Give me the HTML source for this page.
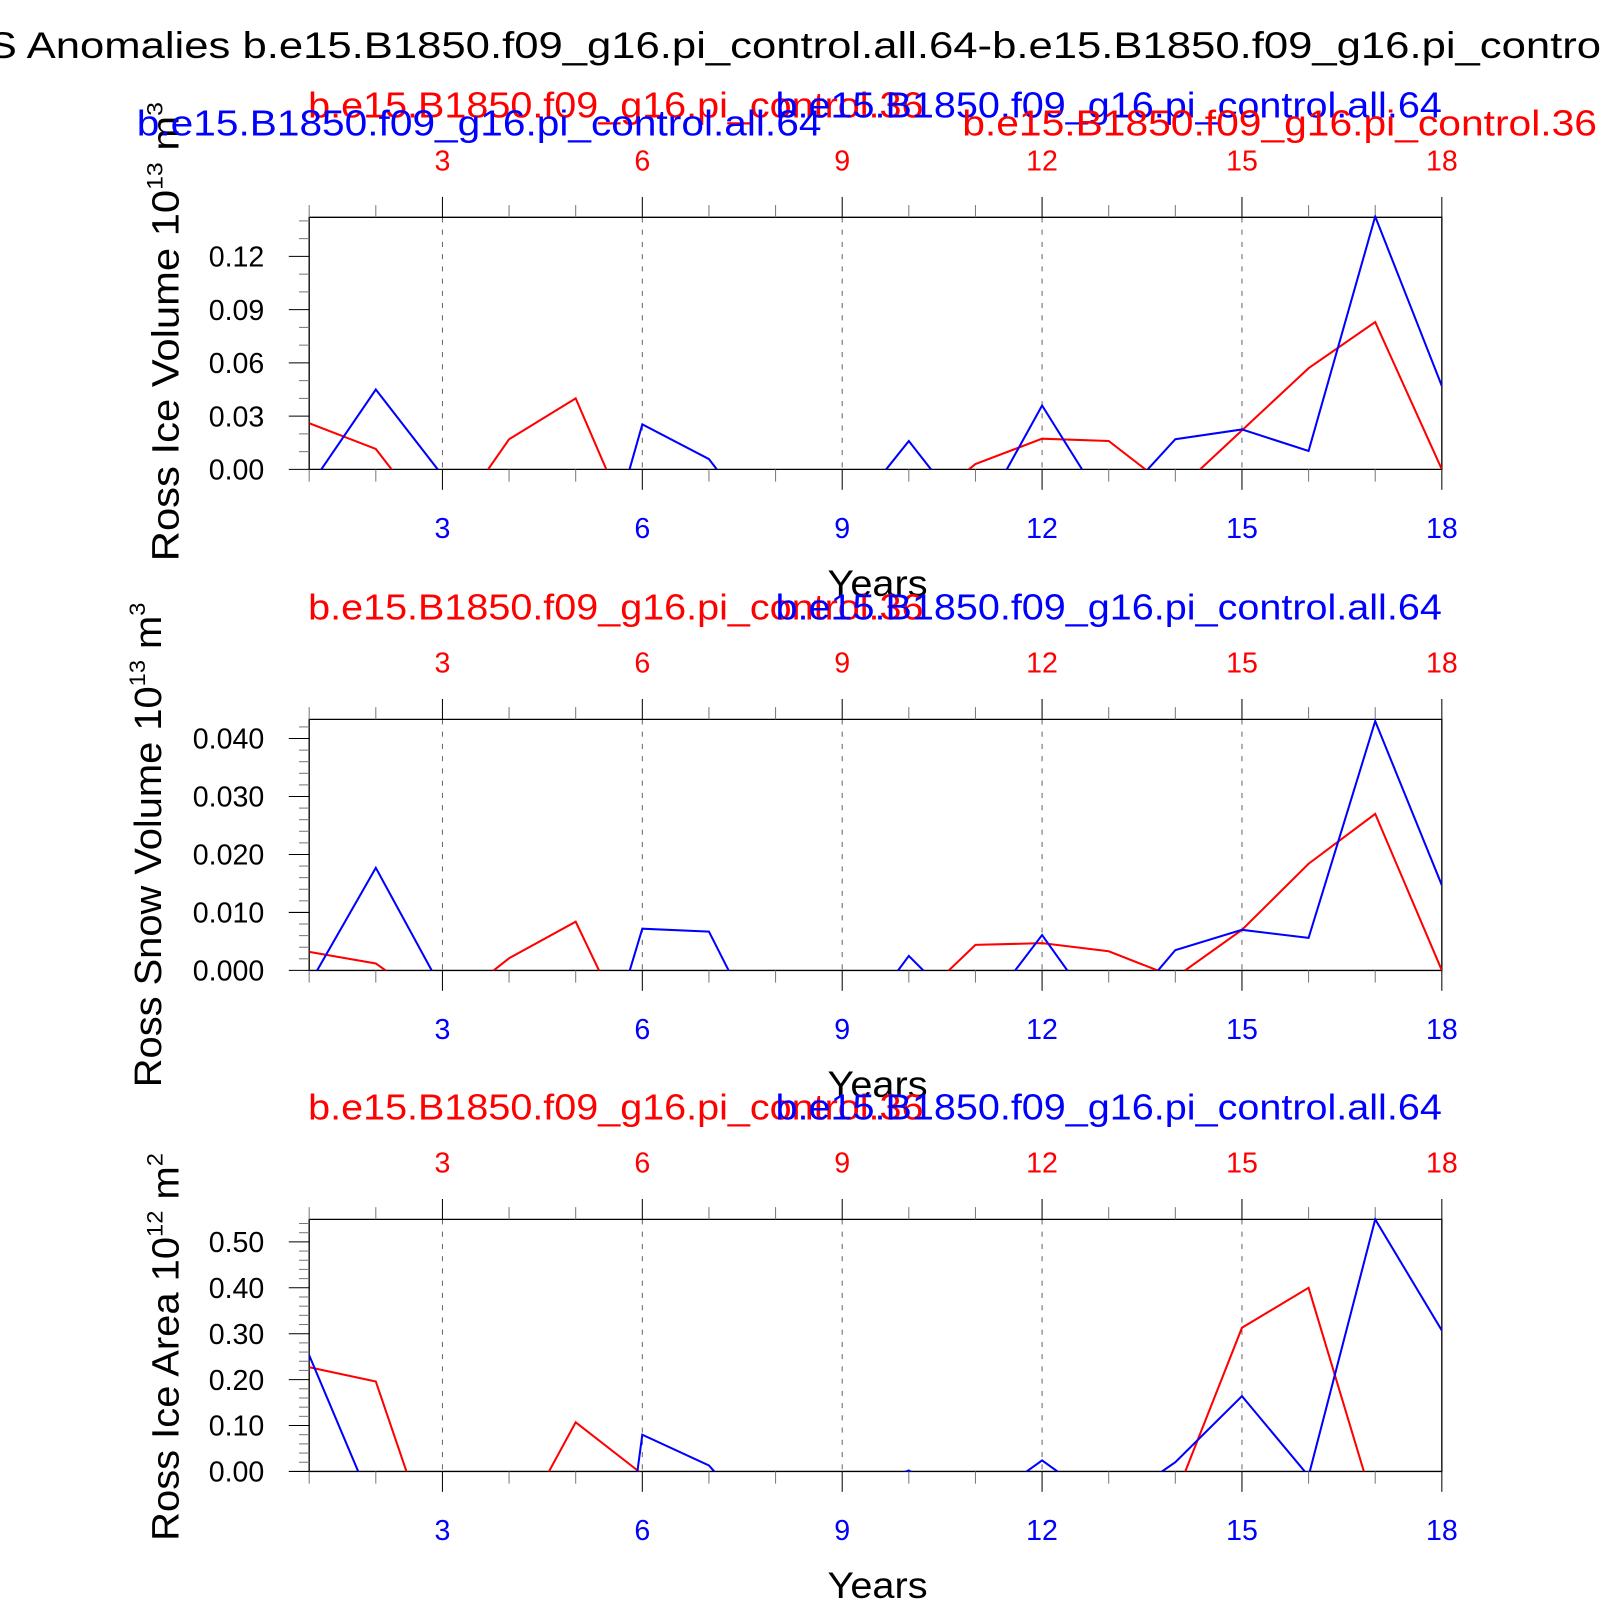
<!DOCTYPE html>
<html><head><meta charset="utf-8"><style>
html,body{margin:0;padding:0;background:#fff;overflow:hidden;width:1600px;height:1600px;}
svg{display:block;font-family:"Liberation Sans",sans-serif;}
</style></head><body>
<svg id="chart" width="1600" height="1600" viewBox="0 0 1568 1568" xmlns="http://www.w3.org/2000/svg" overflow="hidden">
<text x="-12" y="57" font-size="36" textLength="1650" lengthAdjust="spacingAndGlyphs">S Anomalies b.e15.B1850.f09_g16.pi_control.all.64-b.e15.B1850.f09_g16.pi_control.36</text>
<g id="panels"></g>
</svg>
<script>
const years = [1,2,3,4,5,6,7,8,9,10,11,12,13,14,15,16,17,18];
const xTicks = [3,6,9,12,15,18];
const iceVolBlue = [-0.010,0.045,-0.0034,-0.05,-0.107,0.0254,0.0058,-0.043,-0.031,0.016,-0.032,0.036,-0.024,0.017,0.0225,0.0104,0.1425,0.047];
const iceVolRed = [0.026,0.0115,-0.037,0.017,0.040,-0.047,-0.03,-0.03,-0.03,-0.027,0.003,0.0173,0.016,-0.013,0.022,0.057,0.083,0.0];
const snowVolBlue = [-0.0024,0.0177,-0.0034,-0.02,-0.031,0.0072,0.0067,-0.016,-0.013,0.0025,-0.009,0.0061,-0.010,0.0035,0.007,0.0056,0.043,0.0147];
const snowVolRed = [0.0032,0.0012,-0.007,0.0021,0.0084,-0.0156,-0.01,-0.01,-0.01,-0.0066,0.0044,0.0047,0.0033,-0.0012,0.007,0.0184,0.027,0.0];
const areaBlue = [0.253,-0.091,-0.3,-0.5,-1.0,0.08,0.013,-0.15,-0.05,0.002,-0.08,0.024,-0.08,0.02,0.164,-0.01,0.549,0.307];
const areaRed = [0.227,0.196,-0.23,-0.16,0.107,-0.006,-0.1,-0.1,-0.1,-0.1,-0.1,-0.1,-0.1,-0.055,0.313,0.40,-0.082,-0.1];
const iceVolTicks = [0.00,0.03,0.06,0.09,0.12];
const snowVolTicks = [0.000,0.010,0.020,0.030,0.040];
const areaTicks = [0.00,0.10,0.20,0.30,0.40,0.50];

const NS='http://www.w3.org/2000/svg';
const X0=303,X1=1413;
function xs(v){return X0+(v-1)*(X1-X0)/17;}
function mk(parent,tag,attrs,text){const e=document.createElementNS(NS,tag);for(const k in attrs)e.setAttribute(k,attrs[k]);if(text!==undefined)e.textContent=text;parent.appendChild(e);return e;}
const root=document.getElementById('panels');
const panels=[
 {name:'ice-volume',top:213,bot:460,ymax:0.142,ticks:iceVolTicks,dec:2,minor:0.01,blue:iceVolBlue,red:iceVolRed,label:['Ross Ice Volume 10','13',' m','3'],lx:175,ly:325,lw:450,extra:true},
 {name:'snow-volume',top:705,bot:951,ymax:0.0433,ticks:snowVolTicks,dec:3,minor:0.002,blue:snowVolBlue,red:snowVolRed,label:['Ross Snow Volume 10','13',' m','3'],lx:158,ly:828,lw:475},
 {name:'ice-area',top:1195,bot:1442,ymax:0.549,ticks:areaTicks,dec:2,minor:0.02,blue:areaBlue,red:areaRed,label:['Ross Ice Area 10','12',' m','2'],lx:175,ly:1320,lw:380}
];
panels.forEach((p,pi)=>{
  const g=mk(root,'g',{});
  
  
  const ys=v=>p.bot-v/p.ymax*(p.bot-p.top);
  const cp=mk(g,'clipPath',{id:'clip'+pi});
  mk(cp,'rect',{x:X0,y:p.top-2,width:X1-X0,height:p.bot-p.top+2});
  xTicks.forEach(t=>{ if(t<18){const l=mk(g,'line',{x1:xs(t),x2:xs(t),y1:p.top,y2:p.bot,stroke:'#666','stroke-width':1,'stroke-dasharray':'5,7'});
    
    }});
  const fr=mk(g,'path',{d:`M${X0} ${p.bot}V${p.top}H${X1}V${p.bot}H${X0}`,fill:'none',stroke:'#000','stroke-width':1.3});
  
  
  years.forEach(v=>{const maj=v%3===0; const L=maj?20:12;
    mk(g,'line',{x1:xs(v),x2:xs(v),y1:p.top,y2:p.top-L,stroke:maj?'#000':'#777','stroke-width':1});
    mk(g,'line',{x1:xs(v),x2:xs(v),y1:p.bot,y2:p.bot+L,stroke:maj?'#000':'#777','stroke-width':1});});
  xTicks.forEach(t=>{
    const a=mk(g,'text',{x:xs(t),y:p.top-46,'font-size':28,fill:'#f00','text-anchor':'middle'},String(t));
    
    
    const b=mk(g,'text',{x:xs(t),y:p.bot+67,'font-size':28,fill:'#00f','text-anchor':'middle'},String(t));
    
    
  });
  const nMin=Math.floor(p.ymax/p.minor+1e-9);
  for(let i=0;i<=nMin;i++){const v=i*p.minor;const y=ys(v);
    const isMaj=p.ticks.some(t=>Math.abs(t-v)<p.minor/10);
    mk(g,'line',{x1:X0,x2:X0-(isMaj?20:10),y1:y,y2:y,stroke:isMaj?'#000':'#777','stroke-width':1});}
  p.ticks.forEach(t=>{const e=mk(g,'text',{x:259,y:ys(t)+10,'font-size':28,'text-anchor':'end'},t.toFixed(p.dec));
    
    });
  [['red',p.red,'#f00'],['blue',p.blue,'#00f']].forEach(([nm,arr,c])=>{
    const pl=mk(g,'polyline',{points:arr.map((v,i)=>xs(years[i])+','+ys(v)).join(' '),fill:'none',stroke:c,'stroke-width':2,'clip-path':`url(#clip${pi})`});
    
    
  });
  const yl=mk(g,'text',{x:860,y:p.bot+124,'font-size':36,'text-anchor':'middle',textLength:98,lengthAdjust:'spacingAndGlyphs'},'Years');
  
  
  const t=mk(g,'text',{x:0,y:0,'font-size':37,'text-anchor':'middle',textLength:p.lw,lengthAdjust:'spacingAndGlyphs',transform:`translate(${p.lx},${p.ly}) rotate(-90)`});
  
  
  mk(t,'tspan',{},p.label[0]);
  mk(t,'tspan',{dy:-16,'font-size':22},p.label[1]);
  mk(t,'tspan',{dy:16},p.label[2]);
  mk(t,'tspan',{dy:-16,'font-size':22},p.label[3]);
  const sy=p.top-98;
  const s1=mk(g,'text',{x:302,y:sy,'font-size':35,fill:'#f00',textLength:603,lengthAdjust:'spacingAndGlyphs'},'b.e15.B1850.f09_g16.pi_control.36');
  
  
  const s2=mk(g,'text',{x:760,y:sy,'font-size':35,fill:'#00f',textLength:653,lengthAdjust:'spacingAndGlyphs'},'b.e15.B1850.f09_g16.pi_control.all.64');
  
  
  if(p.extra){
    const s3=mk(g,'text',{x:134,y:sy+18,'font-size':35,fill:'#00f',textLength:671,lengthAdjust:'spacingAndGlyphs'},'b.e15.B1850.f09_g16.pi_control.all.64');
    
    
    const s4=mk(g,'text',{x:943,y:sy+18,'font-size':35,fill:'#f00',textLength:622,lengthAdjust:'spacingAndGlyphs'},'b.e15.B1850.f09_g16.pi_control.36');
    
    
  }
});
</script>
</body></html>
